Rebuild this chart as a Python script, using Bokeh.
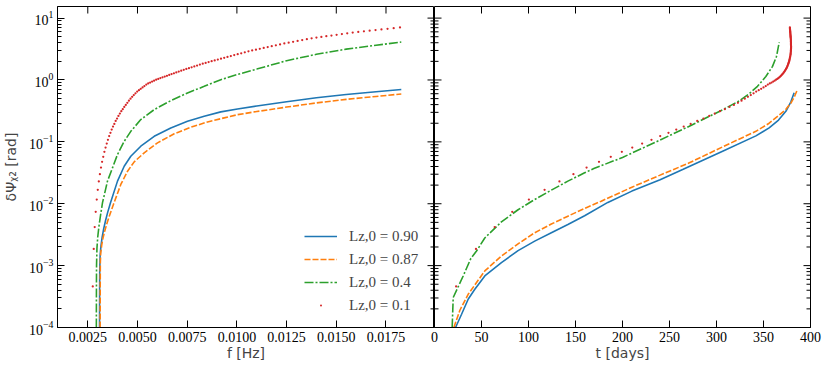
import math
from bokeh.plotting import figure
from bokeh.models import (ColumnDataSource, Range1d, FixedTicker, PrintfTickFormatter, Legend,
                          LegendItem)
from bokeh.layouts import row
from bokeh.embed import file_html
from bokeh.resources import INLINE

# ---------------- data ----------------
labels = ["Lz,0 = 0.90", "Lz,0 = 0.87", "Lz,0 = 0.4", "Lz,0 = 0.1"]
colors = ["#1f77b4", "#ff7f0e", "#2ca02c", "#d62728"]

# left panel: dPsi vs f
blue_f = [0.00309, 0.003095, 0.0031, 0.00312, 0.00316, 0.00322, 0.0033, 0.0034, 0.0035, 0.003642,
          0.003994, 0.004331, 0.004663, 0.005166, 0.00584, 0.006675, 0.007515, 0.008355, 0.00919,
          0.01003, 0.0110, 0.0125, 0.0140, 0.0155, 0.0170, 0.01827]
blue_vf = [1.0e-4, 4.0e-4, 8.0e-4, 1.45e-3, 2.05e-3, 2.85e-3, 3.95e-3, 5.45e-3, 7.25e-3, 0.0104,
           0.0232, 0.0404, 0.0586, 0.085, 0.123, 0.168, 0.215, 0.259, 0.305, 0.34, 0.38, 0.445,
           0.515, 0.583, 0.645, 0.70]
orange_f = [0.00312, 0.003125, 0.00313, 0.00315, 0.0032, 0.00327, 0.00336, 0.00347, 0.00358,
            0.003793, 0.00416, 0.0045, 0.004834, 0.005337, 0.006006, 0.006846, 0.007681,
            0.008521, 0.009361, 0.01003, 0.0110, 0.0125, 0.0140, 0.0155, 0.0170, 0.01827]
orange_vf = [1.0e-4, 4.0e-4, 1.1e-3, 1.6e-3, 2.15e-3, 2.85e-3, 3.7e-3, 4.9e-3, 6.3e-3, 0.0098,
             0.0205, 0.0336, 0.0475, 0.0665, 0.0964, 0.135, 0.172, 0.21, 0.244, 0.275, 0.309,
             0.365, 0.426, 0.486, 0.542, 0.594]
green_f = [0.00293, 0.002935, 0.00294, 0.00296, 0.0030, 0.00306, 0.00314, 0.00324, 0.00349,
           0.003742, 0.003994, 0.004331, 0.004663, 0.005166, 0.00584, 0.006675, 0.007515,
           0.008355, 0.00919, 0.0100, 0.0110, 0.0125, 0.0140, 0.0155, 0.0170, 0.01827]
green_vf = [1.0e-4, 5.0e-4, 1.0e-3, 1.9e-3, 2.9e-3, 4.3e-3, 6.5e-3, 0.0104, 0.0232, 0.038, 0.0624,
            0.102, 0.148, 0.229, 0.332, 0.463, 0.617, 0.789, 1.01, 1.22, 1.5, 2.05, 2.6, 3.15,
            3.65, 4.1]

# red samples (the same points in both panels): frequency, time, dPsi
red_f = [0.002750, 0.002799, 0.002848, 0.002898, 0.002949, 0.003001, 0.003054, 0.003108, 0.003163,
         0.003219, 0.003276, 0.003334, 0.003393, 0.003453, 0.003513, 0.003575, 0.003639, 0.003703,
         0.003768, 0.003835, 0.003902, 0.003971, 0.004041, 0.004113, 0.004185, 0.004259, 0.004334,
         0.004411, 0.004489, 0.004568, 0.004649, 0.004731, 0.004814, 0.004899, 0.004986, 0.005074,
         0.005163, 0.005255, 0.005347, 0.005442, 0.005538, 0.005636, 0.005735, 0.005836, 0.005939,
         0.006044, 0.006151, 0.006260, 0.006370, 0.006482, 0.006597, 0.006713, 0.006832, 0.006952,
         0.007075, 0.007200, 0.007327, 0.007457, 0.007588, 0.007722, 0.007859, 0.007997, 0.008138,
         0.008282, 0.008428, 0.008577, 0.008729, 0.008883, 0.009039, 0.009199, 0.009361, 0.009527,
         0.009695, 0.009866, 0.010040, 0.010217, 0.010398, 0.010581, 0.010768, 0.010958, 0.011152,
         0.011349, 0.011549, 0.011753, 0.011960, 0.012172, 0.012386, 0.012605, 0.012828, 0.013054,
         0.013285, 0.013519, 0.013758, 0.014001, 0.014248, 0.014499, 0.014755, 0.015016, 0.015281,
         0.015551, 0.015825, 0.016105, 0.016389, 0.016678, 0.016973, 0.017272, 0.017577, 0.017887,
         0.018203]
red_t = [23.0, 44.1, 64.0, 82.7, 100.4, 117.1, 132.9, 147.8, 161.8, 175.0,
         187.5, 199.3, 210.4, 220.9, 230.8, 240.1, 248.9, 257.2, 265.1, 272.5,
         279.5, 286.1, 292.3, 298.1, 303.7, 308.9, 313.8, 318.5, 322.8, 326.6,
         330.1, 333.4, 336.5, 339.4, 342.2, 344.9, 347.5, 350.0, 352.4, 354.6,
         356.7, 358.6, 360.3, 361.9, 363.4, 364.7, 365.8, 366.8, 367.7, 368.6,
         369.4, 370.2, 370.9, 371.6, 372.3, 372.9, 373.5, 374.0, 374.5, 374.9,
         375.3, 375.7, 376.1, 376.4, 376.7, 377.0, 377.3, 377.5, 377.7, 377.9,
         378.1, 378.3, 378.5, 378.7, 378.8, 378.9, 379.0, 379.1, 379.15, 379.2,
         379.25, 379.3, 379.3, 379.3, 379.25, 379.2, 379.2, 379.2, 379.15, 379.15,
         379.1, 379.06, 378.98, 378.92, 378.86, 378.8, 378.74, 378.68, 378.62, 378.56,
         378.49, 378.43, 378.38, 378.33, 378.27, 378.22, 378.16, 378.11, 378.05]
red_v = [4.6e-4, 1.86e-3, 4.2e-3, 7.4e-3, 0.0117, 0.0168, 0.0229, 0.0301, 0.0385, 0.0475,
         0.0573, 0.069, 0.081, 0.094, 0.108, 0.124, 0.140, 0.158, 0.177, 0.195,
         0.218, 0.238, 0.262, 0.286, 0.313, 0.337, 0.367, 0.395, 0.428, 0.463,
         0.499, 0.535, 0.571, 0.609, 0.650, 0.685, 0.720, 0.758, 0.798, 0.842,
         0.881, 0.910, 0.942, 0.975, 1.009, 1.042, 1.072, 1.104, 1.136, 1.170,
         1.207, 1.244, 1.283, 1.324, 1.368, 1.413, 1.460, 1.506, 1.553, 1.604,
         1.657, 1.712, 1.771, 1.832, 1.889, 1.948, 2.010, 2.074, 2.142, 2.213,
         2.286, 2.362, 2.441, 2.524, 2.612, 2.704, 2.802, 2.905, 2.996, 3.089,
         3.186, 3.289, 3.397, 3.510, 3.630, 3.756, 3.887, 4.011, 4.139, 4.274,
         4.416, 4.564, 4.721, 4.847, 4.969, 5.097, 5.230, 5.369, 5.515, 5.667,
         5.826, 5.980, 6.114, 6.255, 6.402, 6.554, 6.712, 6.877, 7.051]

# right panel: dPsi vs t
blue_t = [22.4, 28.8, 35.8, 42.9, 53.5, 71.2, 88.9, 106.6, 124.3, 141.9, 159.7, 184.4, 210.0,
          240.0, 264.0, 306.5, 341.9, 356.0, 366.0, 373.8, 379.0, 382.6]
blue_vt = [1.0e-4, 1.64e-4, 2.86e-4, 4.15e-4, 6.8e-4, 1.12e-3, 1.75e-3, 2.49e-3, 3.4e-3, 4.63e-3,
           6.4e-3, 0.0105, 0.016, 0.0245, 0.0357, 0.0705, 0.125, 0.168, 0.225, 0.312, 0.44, 0.62]
orange_t = [20.6, 27.0, 35.8, 53.5, 71.2, 88.9, 106.6, 124.3, 141.9, 159.7, 177.4, 210.0, 240.0,
            270.0, 306.5, 341.9, 356.0, 366.0, 373.8, 379.0, 383.0, 386.1]
orange_vt = [1.0e-4, 1.9e-4, 3.44e-4, 8.2e-4, 1.43e-3, 2.25e-3, 3.4e-3, 4.7e-3, 6.3e-3, 8.4e-3,
             0.011, 0.0185, 0.029, 0.045, 0.083, 0.148, 0.20, 0.265, 0.335, 0.42, 0.54, 0.70]
green_t = [18.8, 19.9, 30.5, 38.6, 44.7, 53.5, 71.2, 88.9, 106.6, 124.3, 141.9, 159.7, 169.5,
           200.0, 235.8, 271.1, 306.5, 324.2, 334.8, 343.6, 352.5, 359.6, 363.8, 366.7]
green_vt = [1.0e-4, 3.05e-4, 6.8e-4, 1.3e-3, 1.72e-3, 2.8e-3, 5.1e-3, 8.0e-3, 0.0117, 0.0166,
            0.0232, 0.0316, 0.037, 0.056, 0.100, 0.179, 0.33, 0.46, 0.60, 0.79, 1.14, 1.66, 2.4,
            4.04]

# ticks and axis ranges
f_range = (0.000976, 0.01994)
t_range = (0, 400)
y_range = (1e-4, 15.4)
f_ticks = [0.0025, 0.0050, 0.0075, 0.0100, 0.0125, 0.0150, 0.0175]
t_ticks = [0, 50, 100, 150, 200, 250, 300, 350, 400]
y_major = [1e-4, 1e-3, 1e-2, 1e-1, 1e0, 1e1]
y_minor = [m * d for d in [1e-4, 1e-3, 1e-2, 1e-1, 1e0] for m in range(2, 10)]

TICK_FONT = "Liberation Serif"
MAJ, MIN = 7, 4


def style_axis(ax, minor):
    ax.major_tick_in = MAJ
    ax.major_tick_out = 0
    ax.minor_tick_in = MIN if minor else 0
    ax.minor_tick_out = 0
    ax.major_tick_line_color = "black"
    ax.minor_tick_line_color = "black"
    ax.axis_line_color = "black"
    ax.major_label_text_font = TICK_FONT
    ax.major_label_text_color = "black"
    ax.major_label_text_font_size = "14px"
    ax.major_label_standoff = 4
    ax.axis_label_text_font = "DejaVu Sans"
    ax.axis_label_text_font_style = "normal"
    ax.axis_label_text_font_size = "14px"
    ax.axis_label_standoff = 0


def tick_rays(p, xs, ys, length, angle):
    p.ray(x=xs, y=ys, length=length, length_units="screen", angle=angle,
          line_color="black", line_width=1)


def make_fig(xr, fw, **kw):
    p = figure(frame_width=fw, frame_height=321, x_range=Range1d(*xr), y_range=Range1d(*y_range),
               y_axis_type="log", toolbar_location=None, output_backend="svg",
               min_border_top=6, min_border_bottom=0, **kw)
    p.grid.visible = False
    p.outline_line_color = "black"
    p.outline_line_width = 1
    p.background_fill_alpha = 0
    p.border_fill_alpha = 0
    return p


# ---------------- left panel ----------------
p1 = make_fig(f_range, 377, min_border_left=57, min_border_right=0)
p1.xaxis.ticker = FixedTicker(ticks=f_ticks)
p1.xaxis.formatter = PrintfTickFormatter(format="%.4f")
p1.yaxis.ticker = FixedTicker(ticks=y_major, minor_ticks=y_minor)
for ax in p1.xaxis:
    style_axis(ax, False)
    ax.axis_label = "f [Hz]"
for ax in p1.yaxis:
    style_axis(ax, True)
    ax.axis_label = "δΨᵪ₂ [rad]"
    ax.axis_label_standoff = 7
# top and right ticks
tick_rays(p1, f_ticks, [y_range[1]] * len(f_ticks), MAJ, -math.pi / 2)
tick_rays(p1, [f_range[1]] * len(y_major), y_major, MAJ, math.pi)
tick_rays(p1, [f_range[1]] * len(y_minor), y_minor, MIN, math.pi)

s_b1 = ColumnDataSource(dict(x=blue_f, y=blue_vf))
s_o1 = ColumnDataSource(dict(x=orange_f, y=orange_vf))
s_g1 = ColumnDataSource(dict(x=green_f, y=green_vf))
s_r = ColumnDataSource(dict(f=red_f, t=red_t, y=red_v))
r_b = p1.line("x", "y", source=s_b1, line_color=colors[0], line_width=1.6)
r_o = p1.line("x", "y", source=s_o1, line_color=colors[1], line_width=1.6, line_dash="6 2")
r_g = p1.line("x", "y", source=s_g1, line_color=colors[2], line_width=1.6, line_dash="9 2 2 2")
r_r = p1.scatter("f", "y", source=s_r, marker="dot", size=9, line_color=colors[3],
                 fill_color=colors[3])

legend = Legend(items=[LegendItem(label=labels[0], renderers=[r_b]),
                       LegendItem(label=labels[1], renderers=[r_o]),
                       LegendItem(label=labels[2], renderers=[r_g]),
                       LegendItem(label=labels[3], renderers=[r_r])],
                location=(247, 12), orientation="vertical")
legend.background_fill_alpha = 0
legend.border_line_color = None
legend.padding = 0
legend.margin = 0
legend.spacing = 3
legend.glyph_width = 33
legend.glyph_height = 20
legend.label_height = 20
legend.label_standoff = 12
legend.label_text_font = TICK_FONT
legend.label_text_font_size = "15px"
p1.add_layout(legend, "center")

# ---------------- right panel ----------------
p2 = make_fig(t_range, 376, min_border_left=8, min_border_right=12, y_axis_location=None)
p2.styles = {"margin-left": "-8px"}
p2.xaxis.ticker = FixedTicker(ticks=t_ticks)
p2.xaxis.formatter = PrintfTickFormatter(format="%d")
for ax in p2.xaxis:
    style_axis(ax, False)
    ax.axis_label = "t [days]"
tick_rays(p2, t_ticks, [y_range[1]] * len(t_ticks), MAJ, -math.pi / 2)
tick_rays(p2, [t_range[0]] * len(y_major), y_major, MAJ, 0.0)
tick_rays(p2, [t_range[0]] * len(y_minor), y_minor, MIN, 0.0)
tick_rays(p2, [t_range[1]] * len(y_major), y_major, MAJ, math.pi)
tick_rays(p2, [t_range[1]] * len(y_minor), y_minor, MIN, math.pi)

p2.line(blue_t, blue_vt, line_color=colors[0], line_width=1.6)
p2.line(orange_t, orange_vt, line_color=colors[1], line_width=1.6, line_dash="6 2")
p2.line(green_t, green_vt, line_color=colors[2], line_width=1.6, line_dash="9 2 2 2")
p2.scatter("t", "y", source=s_r, marker="dot", size=9, line_color=colors[3],
           fill_color=colors[3])

layout = row(p1, p2)
open("out.html", "w").write(file_html(layout, INLINE))
